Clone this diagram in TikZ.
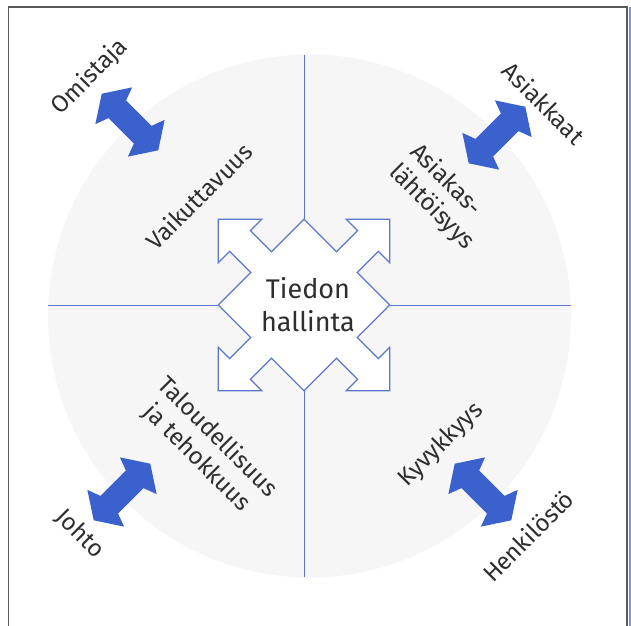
\documentclass[tikz,border=0pt]{standalone}
\usepackage{fontspec}
\setmainfont{Fira Sans}
\definecolor{ink}{HTML}{2E2E2E}
\definecolor{lineblue}{HTML}{5A78CF}
\definecolor{arrowblue}{HTML}{3B62CC}
\definecolor{discgray}{HTML}{F6F6F6}
\definecolor{framegray}{HTML}{5A5A5A}
\begin{document}
\begin{tikzpicture}[x=1pt,y=-1pt,
  lbl/.style={font=\fontsize{24}{29}\selectfont, text=ink, inner sep=0pt},
  hublabel/.style={font=\fontsize{27}{33}\selectfont, text=ink, align=center, inner sep=0pt},
  axisline/.style={draw=lineblue, line width=1pt},
  hub/.style={draw=lineblue, line width=1.3pt, fill=white, line join=miter},
  pics/dblarrow/.style={code={
    \fill[arrowblue] (40,0) -- (23,26) -- (18,12.5) -- (-18,12.5) -- (-23,26)
      -- (-40,0) -- (-23,-26) -- (-18,-12.5) -- (18,-12.5) -- (23,-26) -- cycle;}}
]
\useasboundingbox (0,0) rectangle (631,625);

% frame
\draw[framegray, line width=1.2pt] (8.5,640) -- (8.5,7) -- (627,7) -- (627,640);
\draw[lineblue!80, line width=1.5pt] (630,7) -- (630,640);

% background disc
\fill[discgray] (309.5,316) circle[radius=261.5];

% central hub: diamond with four corner arrows
\begin{scope}[shift={(304,305)}]
  \path[hub]
    (0,-85.7) -- (32.5,-53.2) -- (53.65,-74.35) -- (42.3,-85.7) -- (85.7,-85.7)
    -- (85.7,-42.3) -- (74.35,-53.65) -- (53.2,-32.5) -- (85.7,0)
    -- (53.2,32.5) -- (74.35,53.65) -- (85.7,42.3) -- (85.7,85.7)
    -- (42.3,85.7) -- (53.65,74.35) -- (32.5,53.2) -- (0,85.7)
    -- (-32.5,53.2) -- (-53.65,74.35) -- (-42.3,85.7) -- (-85.7,85.7)
    -- (-85.7,42.3) -- (-74.35,53.65) -- (-53.2,32.5) -- (-85.7,0)
    -- (-53.2,-32.5) -- (-74.35,-53.65) -- (-85.7,-42.3) -- (-85.7,-85.7)
    -- (-42.3,-85.7) -- (-53.65,-74.35) -- (-32.5,-53.2) -- cycle;
  \coordinate (hubN) at (0,-85.7);
  \coordinate (hubE) at (85.7,0);
  \coordinate (hubS) at (0,85.7);
  \coordinate (hubW) at (-85.7,0);
\end{scope}

% axes from the hub to the rim of the disc
\coordinate (rimN) at (304,55);
\coordinate (rimS) at (304,577);
\coordinate (rimW) at (48,305);
\coordinate (rimE) at (571,305);
\draw[axisline] (rimN) -- (hubN);
\draw[axisline] (hubS) -- (rimS);
\draw[axisline] (rimW) -- (hubW);
\draw[axisline] (hubE) -- (rimE);

\node[hublabel] (tiedon) at (308,305) {Tiedon\\hallinta};

% double arrows
\pic[rotate=-45] (arrOmistaja) at (130,122) {dblarrow};
\pic[rotate=45] (arrAsiakkaat) at (497,135) {dblarrow};
\pic[rotate=45] (arrJohto) at (122,492) {dblarrow};
\pic[rotate=-45] (arrHenkilosto) at (483,492) {dblarrow};

% labels
\node[lbl, rotate=45] (omistaja) at (90,77) {Omistaja};
\node[lbl, rotate=-45] (asiakkaat) at (544,103) {Asiakkaat};
\node[lbl, rotate=45] (vaikuttavuus) at (199,196) {Vaikuttavuus};
\node[lbl, rotate=-45, align=left] (asiakaslahtoisyys) at (442,197) {Asiakas-\\lähtöisyys};
\node[lbl, rotate=-45, align=center] (talous) at (207,448) {Taloudellisuus\\ja tehokkuus};
\node[lbl, rotate=45] (kyvykkyys) at (441,445) {Kyvykkyys};
\node[lbl, rotate=-45] (johto) at (80,534) {Johto};
\node[lbl, rotate=45] (henkilosto) at (528,536) {Henkilöstö};
\end{tikzpicture}
\end{document}
